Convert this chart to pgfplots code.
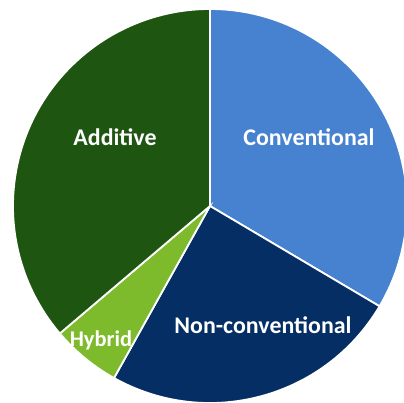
\documentclass[border=0pt]{standalone}
\usepackage{pgfplots}
\pgfplotsset{compat=1.18}
\usepackage{pgfplotstable}
\usepackage{fontspec}
\setmainfont{Carlito}
\definecolor{conv}{RGB}{70,130,208}
\definecolor{nonconv}{RGB}{5,46,101}
\definecolor{hyb}{RGB}{126,187,44}
\definecolor{addc}{RGB}{30,86,17}
\pgfplotstableread{
label value
Conventional 33.5
Nonconventional 24.6
Hybrid 5.7
Additive 36.2
}\piedata
\begin{document}
\begin{tikzpicture}
\pgfplotstablegetelem{0}{value}\of\piedata \let\vA\pgfplotsretval
\pgfplotstablegetelem{1}{value}\of\piedata \let\vB\pgfplotsretval
\pgfplotstablegetelem{2}{value}\of\piedata \let\vC\pgfplotsretval
\pgfplotstablegetelem{3}{value}\of\piedata \let\vD\pgfplotsretval
\pgfmathsetmacro\tot{\vA+\vB+\vC+\vD}
\pgfmathsetmacro\aA{90}
\pgfmathsetmacro\aB{\aA-360*\vA/\tot}
\pgfmathsetmacro\aC{\aB-360*\vB/\tot}
\pgfmathsetmacro\aD{\aC-360*\vC/\tot}
\pgfmathsetmacro\aE{\aD-360*\vD/\tot}
\def\R{197}
\begin{axis}[hide axis, scale only axis, x=1bp, y=1bp,
  xmin=-210, xmax=194, ymin=-197, ymax=206, clip=true]
\filldraw[fill=conv, draw=white, line width=1.8pt] (axis cs:0,0) -- (axis cs:{\R*cos(\aA)},{\R*sin(\aA)}) arc[start angle=\aA, end angle=\aB, radius=\R bp] -- cycle;
\filldraw[fill=nonconv, draw=white, line width=1.8pt] (axis cs:0,0) -- (axis cs:{\R*cos(\aB)},{\R*sin(\aB)}) arc[start angle=\aB, end angle=\aC, radius=\R bp] -- cycle;
\filldraw[fill=hyb, draw=white, line width=1.8pt] (axis cs:0,0) -- (axis cs:{\R*cos(\aC)},{\R*sin(\aC)}) arc[start angle=\aC, end angle=\aD, radius=\R bp] -- cycle;
\filldraw[fill=addc, draw=white, line width=1.8pt] (axis cs:0,0) -- (axis cs:{\R*cos(\aD)},{\R*sin(\aD)}) arc[start angle=\aD, end angle=\aE, radius=\R bp] -- cycle;
\tikzset{lbl/.style={text=white, font=\bfseries\fontsize{24}{28}\selectfont, inner sep=0pt}}
\node[lbl] at (axis cs:-95,69) {Additive};
\node[lbl] at (axis cs:99,69) {Conventional};
\node[lbl] at (axis cs:53,-119) {Non-conventional};
\node[lbl, font=\bfseries\fontsize{22.5}{26}\selectfont] at (axis cs:-109,-134) {Hybrid};
\coordinate (sw) at (axis cs:-210,-197);
\coordinate (ne) at (axis cs:194,206);
\end{axis}
\pgfresetboundingbox
\path[use as bounding box] (sw) rectangle (ne);
\end{tikzpicture}
\end{document}
